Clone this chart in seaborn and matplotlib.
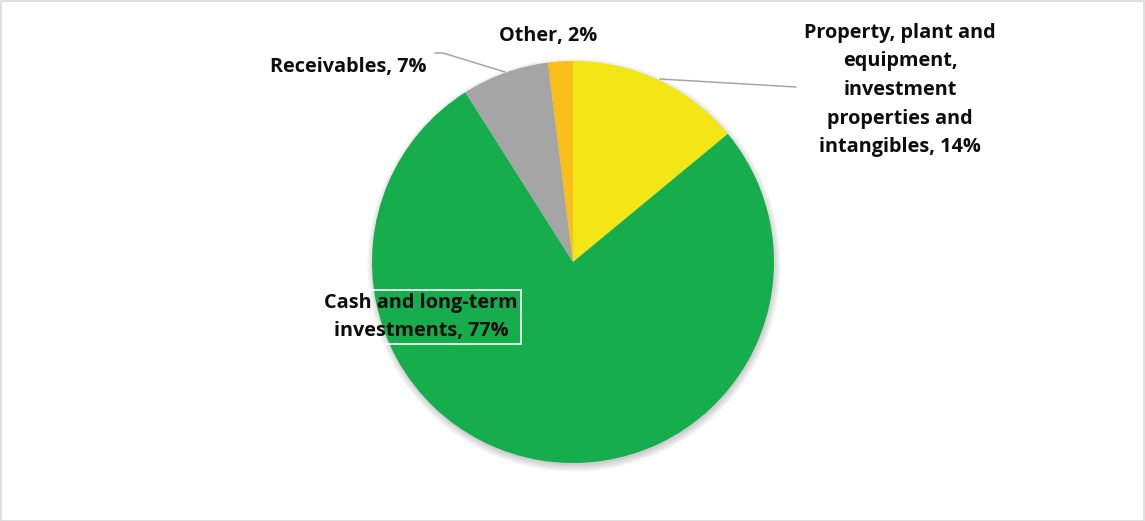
import matplotlib
matplotlib.use("Agg")
import matplotlib.pyplot as plt
import seaborn as sns
from matplotlib.patches import Circle, Rectangle

sns.set_theme(style="white")
plt.rcParams["font.family"] = ["Open Sans", "DejaVu Sans"]

# Asset composition (percent of total)
categories = [
    "Property, plant and\nequipment,\ninvestment\nproperties and\nintangibles",
    "Cash and long-term\ninvestments",
    "Receivables",
    "Other",
]
shares = [14, 77, 7, 2]
colors = ["#F2E714", "#16AD4C", "#A5A5A5", "#FABE1A"]

W, H = 1145, 521
fig = plt.figure(figsize=(W / 100, H / 100), dpi=100)
ax = fig.add_axes([0, 0, 1, 1])


def Y(y):
    """Convert a top-down pixel row into the axis' bottom-up coordinate."""
    return H - y


cx, cy, r = 573, Y(262), 201

# soft drop shadow under the pie
for i in range(10):
    ax.add_patch(Circle((cx + 1, cy - 3), r + 6 - i * 0.8, color="black",
                        alpha=0.018, lw=0, zorder=1))

wedges, _ = ax.pie(shares, colors=colors, startangle=90, counterclock=False,
                   center=(cx, cy), radius=r, frame=True,
                   wedgeprops=dict(linewidth=0, zorder=2))
ax.set_xlim(0, W)
ax.set_ylim(0, H)
ax.set_aspect("equal")
ax.axis("off")

label_kw = dict(fontsize=14.3, fontweight="bold", color="#0D0D0D",
                ha="center", va="center", linespacing=1.58, zorder=5)

labels = [f"{c}, {s}%" for c, s in zip(categories, shares)]
ax.text(900, Y(90), labels[0], **label_kw)
ax.text(421, Y(317), labels[1],
        bbox=dict(boxstyle="square,pad=0.15", fc="none", ec="white", lw=1.2),
        **label_kw)
ax.text(348, Y(67), labels[2], **label_kw)
ax.text(548, Y(36), labels[3], **label_kw)

# leader lines
ax.plot([660, 796], [Y(79), Y(87)], color="#A6A6A6", lw=1.1, zorder=4)
ax.plot([435, 443, 505], [Y(53), Y(53), Y(72)], color="#A6A6A6", lw=1.1,
        zorder=4)

# chart border
ax.add_patch(Rectangle((0.5, 0.5), W - 1.5, H - 1, fill=False,
                       ec="#D9D9D9", lw=1.2, zorder=6))

fig.savefig("out.png", dpi=100)
